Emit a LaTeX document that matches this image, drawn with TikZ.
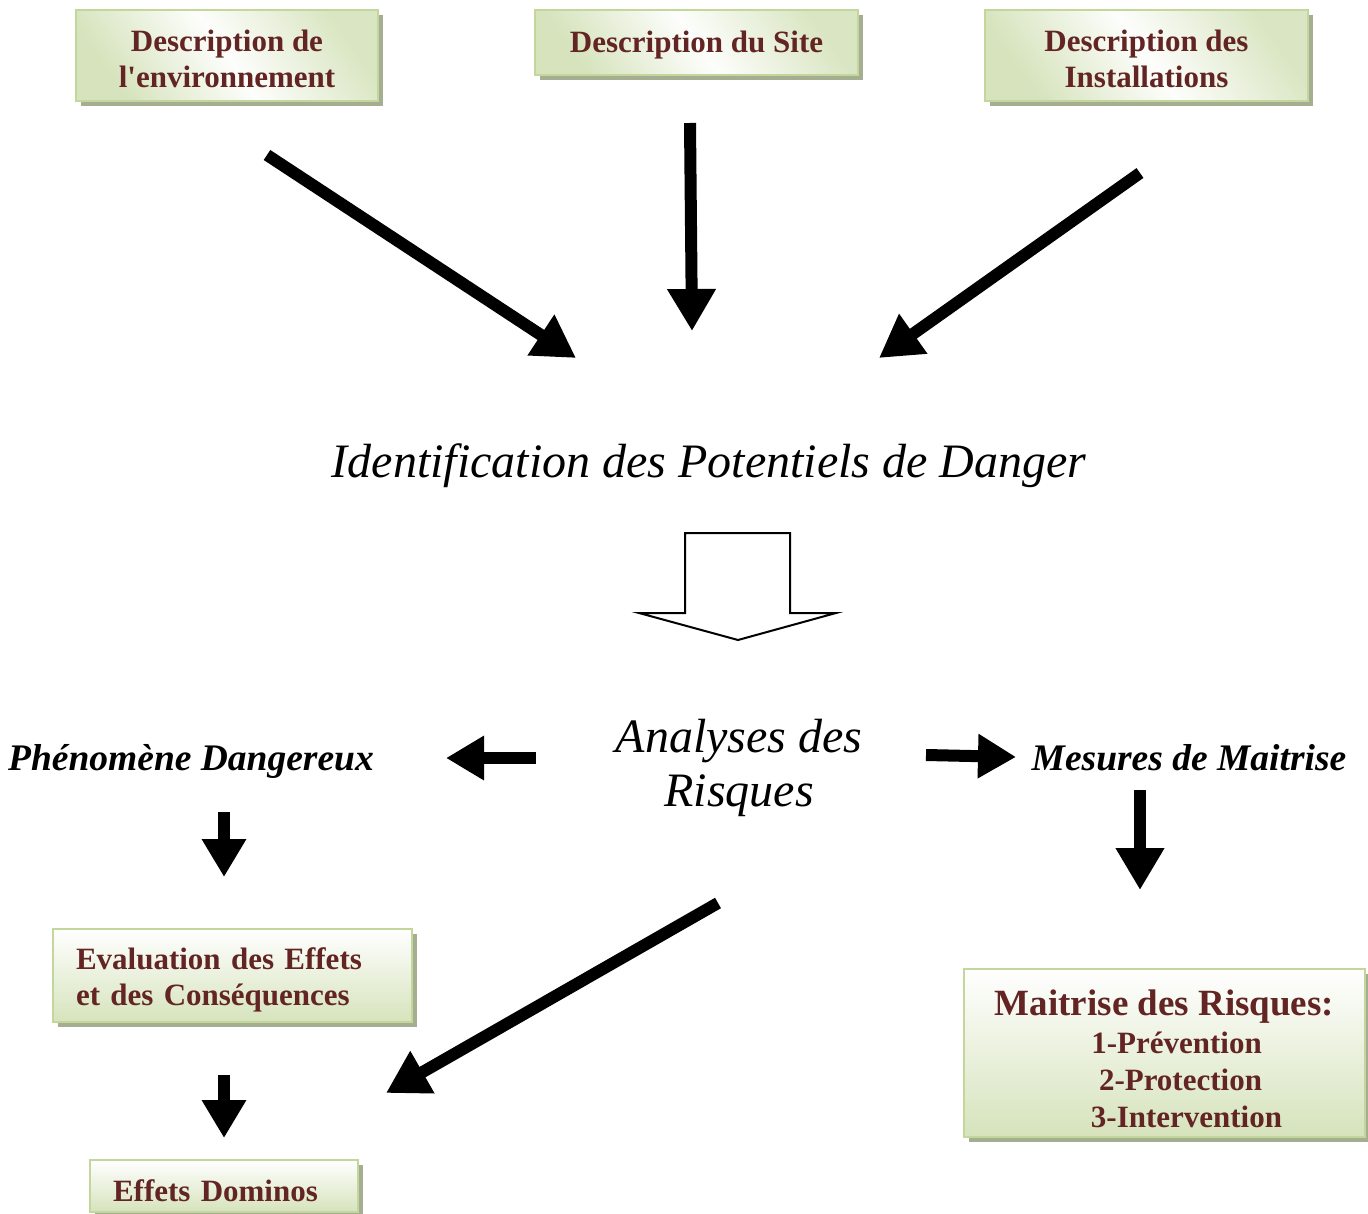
\documentclass[tikz,border=0pt]{standalone}
\usepackage{fontspec}
\setmainfont{Liberation Serif}
\usetikzlibrary{arrows.meta,shadows}
\definecolor{txtred}{RGB}{99,37,35}
\definecolor{boxline}{RGB}{195,214,155}
\definecolor{boxfill}{RGB}{214,227,188}
\definecolor{shadowc}{RGB}{165,174,145}
\newcommand\mystrut[1]{\rule{0pt}{#1}}
\tikzset{
  boxbase/.style={draw=boxline, line width=2pt, text=txtred,
    font=\fontsize{31}{36}\selectfont\bfseries, inner sep=0pt,
    drop shadow={shadow xshift=5pt, shadow yshift=-5pt, fill=shadowc, opacity=1}},
  topbox/.style={boxbase, align=center, left color=boxfill, right color=boxfill!90, middle color=white!95!boxfill, shading angle=125},
  lowbox/.style={boxbase, top color=white, bottom color=boxfill},
  bigarrow/.style={line width=12pt, -{Triangle[length=42pt,width=46pt]}},
  smallarrow/.style={line width=12pt, -{Triangle[length=38pt,width=42pt]}},
  italtxt/.style={inner sep=0pt, font=\fontsize{48}{54}\selectfont\itshape},
  bitaltxt/.style={inner sep=0pt, font=\fontsize{37.5}{40}\selectfont\bfseries\itshape}
}
\begin{document}
\begin{tikzpicture}[x=1pt,y=-1pt]
\useasboundingbox (0,0) rectangle (1368,1214);
% boxes
\node[topbox, minimum width=302pt, minimum height=91pt] (env) at (227,55.5) {\mystrut{29pt}Description de\\l\textquotesingle environnement};
\node[topbox, minimum width=323pt, minimum height=65pt] (site) at (696.5,42.5) {\mystrut{27pt}Description du Site};
\node[topbox, minimum width=323pt, minimum height=91pt] (inst) at (1146.5,55.5) {\mystrut{29pt}Description des\\Installations};
\node[lowbox, align=left, text width=313pt, inner xsep=23pt, minimum height=93pt] (eval) at (232.5,975.5) {\mystrut{31pt}Evaluation des Effets\\et des Conséquences};
\node[lowbox, align=center, minimum width=401pt, minimum height=168pt] (mait) at (1164.5,1053)
  {\mystrut{38pt}{\fontsize{37}{40}\selectfont Maitrise des Risques:}\\[2pt]\hspace*{24pt}1-Prévention\\[1pt]\hspace*{32pt}2-Protection\\[1pt]\hspace*{44pt}3-Intervention};
\node[lowbox, align=left, text width=222pt, inner xsep=23pt, minimum height=52pt] (domino) at (224,1186) {\mystrut{31pt}Effets Dominos};
% texts
\node[italtxt, anchor=base] (ident) at (709,477) {Identification des Potentiels de Danger};
\node[italtxt, anchor=base, align=center] (anal) at (739,806) {Analyses des\\Risques};
\node[bitaltxt, anchor=base] (phen) at (191,770) {Phénomène Dangereux};
\node[bitaltxt, anchor=base] (mes) at (1189,770) {Mesures de Maitrise};
% arrow coordinates
\coordinate (a1s) at (267,155); \coordinate (a1e) at (576,358);
\coordinate (a2s) at (690,123); \coordinate (a2e) at (692,331);
\coordinate (a3s) at (1140,173); \coordinate (a3e) at (879,358);
\coordinate (lfs) at (536,758); \coordinate (lfe) at (446,758);
\coordinate (rts) at (926,755); \coordinate (rte) at (1016,757);
\coordinate (d1s) at (224,812); \coordinate (d1e) at (224,877);
\coordinate (d2s) at (1140,790); \coordinate (d2e) at (1140,890);
\coordinate (dgs) at (718,903); \coordinate (dge) at (386,1093);
\coordinate (d3s) at (224,1075); \coordinate (d3e) at (224,1138);
\draw[bigarrow] (a1s) -- (a1e);
\draw[bigarrow] (a2s) -- (a2e);
\draw[bigarrow] (a3s) -- (a3e);
\draw[smallarrow] (lfs) -- (lfe);
\draw[smallarrow] (rts) -- (rte);
\draw[smallarrow] (d1s) -- (d1e);
\draw[bigarrow] (d2s) -- (d2e);
\draw[bigarrow] (dgs) -- (dge);
\draw[smallarrow] (d3s) -- (d3e);
% hollow block arrow
\draw[line width=2pt, line join=miter, fill=white] (685,613) -- (685,533) -- (790,533) -- (790,613) -- (836,613) -- (738,640) -- (639,613) -- cycle;
\end{tikzpicture}
\end{document}
